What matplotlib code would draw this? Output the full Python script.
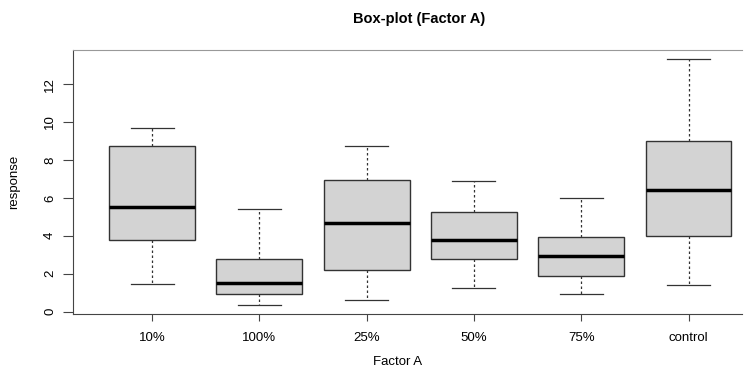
import matplotlib.pyplot as plt

plt.rcParams['font.family'] = ['Liberation Sans', 'DejaVu Sans']

# Five-number summaries
groups = ["10%", "100%", "25%", "50%", "75%", "control"]
whisk_low = [1.45, 0.34, 0.60, 1.22, 0.94, 1.40]
q1 = [3.75, 0.94, 2.21, 2.76, 1.88, 3.98]
median = [5.54, 1.52, 4.66, 3.79, 2.94, 6.43]
q3 = [8.75, 2.75, 6.94, 5.26, 3.95, 9.00]
whisk_high = [9.70, 5.40, 8.73, 6.90, 5.98, 13.33]

stats = []
for i in range(len(groups)):
    stats.append({
        "label": groups[i],
        "whislo": whisk_low[i],
        "q1": q1[i],
        "med": median[i],
        "q3": q3[i],
        "whishi": whisk_high[i],
    })

fig = plt.figure(figsize=(7.55, 3.69), dpi=100)
ax = fig.add_axes([0.0963, 0.148, 0.8867, 0.7165])

ax.bxp(stats, positions=range(1, len(groups) + 1), widths=0.8,
       patch_artist=True, showfliers=False,
       boxprops=dict(facecolor="#d3d3d3", edgecolor="#333333", linewidth=1.0),
       medianprops=dict(color="black", linewidth=2.5),
       whiskerprops=dict(color="#333333", linestyle=(0, (2, 2)), linewidth=0.9),
       capprops=dict(color="#333333", linewidth=0.9))

ax.set_xlim(0.26, 6.5)
ax.set_ylim(-0.15, 13.8)
ax.set_yticks([0, 2, 4, 6, 8, 10, 12])
ax.tick_params(axis="y", labelrotation=90, labelsize=9.5, length=7,
               color="#444444", pad=5)
ax.tick_params(axis="x", labelsize=9.5, length=5, color="#444444", pad=8)
for lab in ax.get_yticklabels():
    lab.set_va("center")

ax.spines["right"].set_visible(False)
ax.spines["top"].set_color("#999999")
for s in ["left", "bottom"]:
    ax.spines[s].set_color("#444444")

ax.set_xlabel("Factor A", fontsize=9.5, va="center")
ax.xaxis.set_label_coords(0.485, -0.18)
ax.set_ylabel("response", fontsize=9.5, va="center")
ax.yaxis.set_label_coords(-0.088, 0.5)
fig.text(0.555, 0.948, "Box-plot (Factor A)", ha="center", va="center",
         fontsize=10.5, fontweight="bold")

plt.savefig("out.png", dpi=100)
